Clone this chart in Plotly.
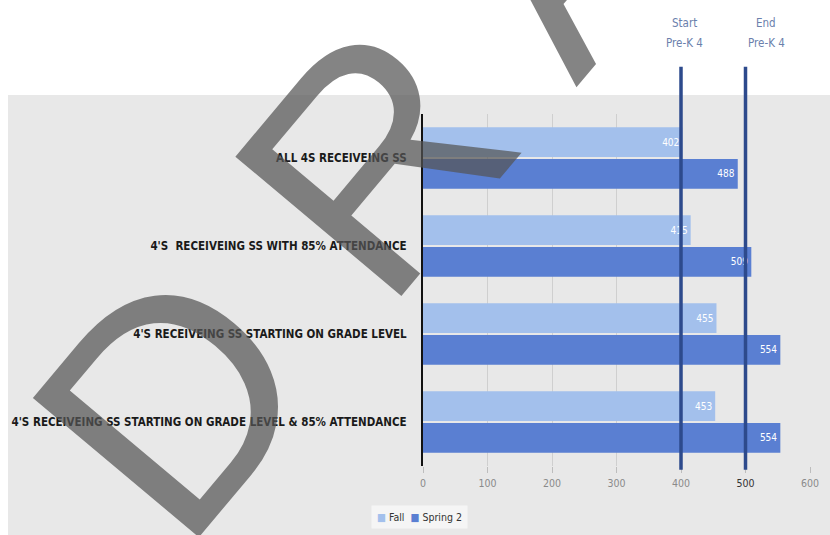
import plotly.graph_objects as go

categories = [
    "ALL 4S RECEIVEING SS",
    "4'S  RECEIVEING SS WITH 85% ATTENDANCE",
    "4'S RECEIVEING SS STARTING ON GRADE LEVEL",
    "4'S RECEIVEING SS STARTING ON GRADE LEVEL & 85% ATTENDANCE",
]
fall = [402, 415, 455, 453]
spring2 = [488, 509, 554, 554]
series_names = ["Fall", "Spring 2"]
x_ticks = [0, 100, 200, 300, 400, 500, 600]
marker_lines = [400, 500]
marker_labels = [("Start", "Pre-K 4"), ("End", "Pre-K 4")]
marker_label_x = [405, 532]
watermark_text = "D R A F T"

FALL_C = "#a3c0ec"
SPR_C = "#5a7fd2"
LINE_C = "#2d4a8c"
LABEL_C = "#6b7fac"
NARROW = "Liberation Sans Narrow, DejaVu Sans Condensed, Arial Narrow, sans-serif"
colors = [FALL_C, SPR_C]

fig = go.Figure()
for name, vals, col in [(series_names[0], fall, FALL_C), (series_names[1], spring2, SPR_C)]:
    fig.add_trace(go.Bar(
        y=categories, x=vals, name=name, orientation="h",
        marker=dict(color=col, line=dict(width=0)),
        text=[str(v) for v in vals], textposition="inside", insidetextanchor="end",
        textfont=dict(color="white", size=10, family=NARROW),
        cliponaxis=False, showlegend=False,
    ))

shapes = [
    dict(type="rect", xref="paper", yref="paper", x0=-1.0724, x1=1.06, y0=-0.25, y1=1.054,
         fillcolor="#e8e8e8", line=dict(width=0), layer="below"),
]
for v in marker_lines:
    shapes.append(dict(type="line", xref="x", yref="paper", x0=v, x1=v, y0=-0.011, y1=1.134,
                       line=dict(color=LINE_C, width=3.5), layer="above"))

annotations = []
for (l1, l2), xv in zip(marker_labels, marker_label_x):
    annotations.append(dict(x=xv, y=1.259, xref="x", yref="paper", text=l1, showarrow=False,
                            font=dict(size=11.5, color=LABEL_C, family="DejaVu Sans Condensed, sans-serif"),
                            xanchor="center", yanchor="middle"))
    annotations.append(dict(x=xv, y=1.202, xref="x", yref="paper", text=l2, showarrow=False,
                            font=dict(size=11.5, color=LABEL_C, family="DejaVu Sans Condensed, sans-serif"),
                            xanchor="center", yanchor="middle"))

# legend (compact, like the original)
legend_text = "&nbsp;&nbsp;".join(
    f"<span style='color:{c}'>■</span> {n}" for n, c in zip(series_names, colors))
annotations.append(dict(x=-0.008, y=-0.145, xref="paper", yref="paper", text=legend_text,
                        showarrow=False, xanchor="center", yanchor="middle",
                        font=dict(size=10.5, color="#333", family=NARROW),
                        bgcolor="rgba(246,246,246,0.95)", borderpad=5))

annotations.append(dict(x=0.292, y=1.42, xref="paper", yref="paper", text=watermark_text, showarrow=False,
                        textangle=-50, font=dict(size=315, color="rgba(85,85,85,0.72)",
                                                 family="Liberation Sans, Arial, sans-serif"),
                        xanchor="center", yanchor="middle"))

tick_text = [f"<span style='color:#333'>{t}</span>" if t == 500 else str(t) for t in x_ticks]

fig.update_layout(
    width=830, height=535,
    margin=dict(l=423, r=20, t=114, b=69, autoexpand=False),
    paper_bgcolor="white", plot_bgcolor="rgba(0,0,0,0)",
    barmode="group", bargap=0.28, bargroupgap=0.06,
    showlegend=False,
    xaxis=dict(range=[0, 600], tickvals=x_ticks, ticktext=tick_text,
               showgrid=True, gridcolor="#cfcfcf", gridwidth=1, zeroline=False,
               ticks="outside", ticklen=6, tickcolor="#bdbdbd", ticklabelstandoff=1,
               tickfont=dict(size=10.5, color="#8a8a8a", family=NARROW),
               showline=False, fixedrange=True, automargin=False),
    yaxis=dict(autorange="reversed", showline=True, linecolor="#111", linewidth=2,
               ticks="", ticklabelstandoff=12, automargin=False,
               tickfont=dict(size=11.5, color="#1a1a1a", family=NARROW, weight="bold"),
               showgrid=False, zeroline=False),
    shapes=shapes,
    annotations=annotations,
    uniformtext=dict(minsize=10, mode="show"),
)

fig.write_html("out.html")
